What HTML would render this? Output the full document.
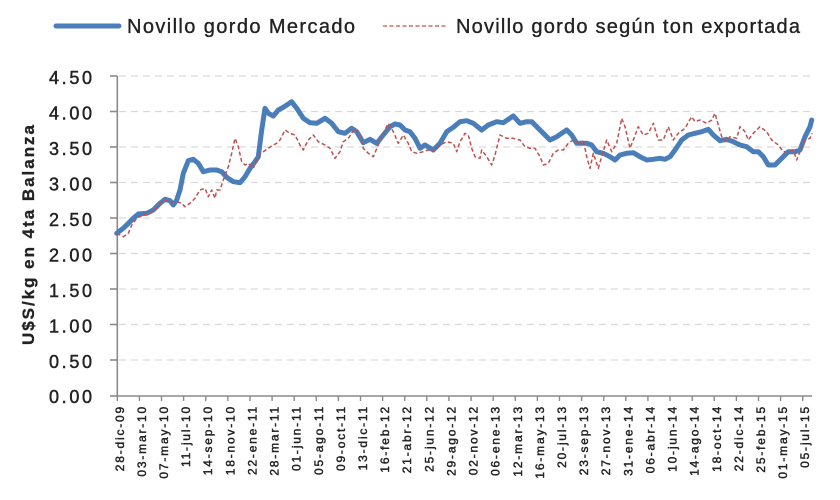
<!DOCTYPE html>
<html>
<head>
<meta charset="utf-8">
<style>
  html,body{margin:0;padding:0;background:#fff;}
  svg{display:block;}
  text{font-family:"Liberation Sans",sans-serif;fill:#222;}
</style>
</head>
<body>
<svg width="840" height="500" viewBox="0 0 840 500" xmlns="http://www.w3.org/2000/svg">
  <rect width="840" height="500" fill="#fff"/>

  <!-- Legend -->
  <line x1="56" y1="26" x2="119" y2="26" stroke="#4a7ebb" stroke-width="5" stroke-linecap="round"/>
  <text x="127" y="33" font-size="20" textLength="228" lengthAdjust="spacing" stroke="#222" stroke-width="0.35">Novillo gordo Mercado</text>
  <line x1="383" y1="26" x2="448" y2="26" stroke="#c0504d" stroke-width="1.3" stroke-dasharray="4,2.5"/>
  <text x="456" y="33" font-size="20" textLength="344" lengthAdjust="spacing" stroke="#222" stroke-width="0.35">Novillo gordo según ton exportada</text>

  <!-- Gridlines -->
  <g stroke="#d9d9d9" stroke-width="1.3" stroke-dasharray="7,5">
    <line x1="119" y1="76" x2="812" y2="76"/>
    <line x1="119" y1="111.5" x2="812" y2="111.5"/>
    <line x1="119" y1="147" x2="812" y2="147"/>
    <line x1="119" y1="182.5" x2="812" y2="182.5"/>
    <line x1="119" y1="218" x2="812" y2="218"/>
    <line x1="119" y1="253.5" x2="812" y2="253.5"/>
    <line x1="119" y1="289" x2="812" y2="289"/>
    <line x1="119" y1="324.5" x2="812" y2="324.5"/>
    <line x1="119" y1="360" x2="812" y2="360"/>
  </g>

  <!-- Axes -->
  <g stroke="#8a8a8a" stroke-width="1.6">
    <line x1="117.3" y1="76" x2="117.3" y2="396.5"/>
    <line x1="117.3" y1="396" x2="812" y2="396"/>
    <line x1="110" y1="76" x2="117.3" y2="76"/>
    <line x1="110" y1="111.5" x2="117.3" y2="111.5"/>
    <line x1="110" y1="147" x2="117.3" y2="147"/>
    <line x1="110" y1="182.5" x2="117.3" y2="182.5"/>
    <line x1="110" y1="218" x2="117.3" y2="218"/>
    <line x1="110" y1="253.5" x2="117.3" y2="253.5"/>
    <line x1="110" y1="289" x2="117.3" y2="289"/>
    <line x1="110" y1="324.5" x2="117.3" y2="324.5"/>
    <line x1="110" y1="360" x2="117.3" y2="360"/>
    <line x1="110" y1="396" x2="117.3" y2="396"/>
  </g>
  <g stroke="#8a8a8a" stroke-width="1.4">
    <line x1="117.3" y1="396" x2="117.3" y2="401"/>
    <line x1="139.4" y1="396" x2="139.4" y2="401"/>
    <line x1="161.5" y1="396" x2="161.5" y2="401"/>
    <line x1="183.6" y1="396" x2="183.6" y2="401"/>
    <line x1="205.7" y1="396" x2="205.7" y2="401"/>
    <line x1="227.9" y1="396" x2="227.9" y2="401"/>
    <line x1="250.0" y1="396" x2="250.0" y2="401"/>
    <line x1="272.1" y1="396" x2="272.1" y2="401"/>
    <line x1="294.2" y1="396" x2="294.2" y2="401"/>
    <line x1="316.3" y1="396" x2="316.3" y2="401"/>
    <line x1="338.4" y1="396" x2="338.4" y2="401"/>
    <line x1="360.5" y1="396" x2="360.5" y2="401"/>
    <line x1="382.6" y1="396" x2="382.6" y2="401"/>
    <line x1="404.7" y1="396" x2="404.7" y2="401"/>
    <line x1="426.8" y1="396" x2="426.8" y2="401"/>
    <line x1="448.9" y1="396" x2="448.9" y2="401"/>
    <line x1="471.1" y1="396" x2="471.1" y2="401"/>
    <line x1="493.2" y1="396" x2="493.2" y2="401"/>
    <line x1="515.3" y1="396" x2="515.3" y2="401"/>
    <line x1="537.4" y1="396" x2="537.4" y2="401"/>
    <line x1="559.5" y1="396" x2="559.5" y2="401"/>
    <line x1="581.6" y1="396" x2="581.6" y2="401"/>
    <line x1="603.7" y1="396" x2="603.7" y2="401"/>
    <line x1="625.8" y1="396" x2="625.8" y2="401"/>
    <line x1="647.9" y1="396" x2="647.9" y2="401"/>
    <line x1="670.0" y1="396" x2="670.0" y2="401"/>
    <line x1="692.2" y1="396" x2="692.2" y2="401"/>
    <line x1="714.3" y1="396" x2="714.3" y2="401"/>
    <line x1="736.4" y1="396" x2="736.4" y2="401"/>
    <line x1="758.5" y1="396" x2="758.5" y2="401"/>
    <line x1="780.6" y1="396" x2="780.6" y2="401"/>
    <line x1="802.7" y1="396" x2="802.7" y2="401"/>
  </g>

  <!-- Y tick labels -->
  <g font-size="18" stroke="#222" stroke-width="0.45">
    <text x="49" y="84" textLength="43" lengthAdjust="spacing">4.50</text>
    <text x="49" y="119.5" textLength="43" lengthAdjust="spacing">4.00</text>
    <text x="49" y="155" textLength="43" lengthAdjust="spacing">3.50</text>
    <text x="49" y="190.5" textLength="43" lengthAdjust="spacing">3.00</text>
    <text x="49" y="226" textLength="43" lengthAdjust="spacing">2.50</text>
    <text x="49" y="261.5" textLength="43" lengthAdjust="spacing">2.00</text>
    <text x="49" y="297" textLength="43" lengthAdjust="spacing">1.50</text>
    <text x="49" y="332.5" textLength="43" lengthAdjust="spacing">1.00</text>
    <text x="49" y="368" textLength="43" lengthAdjust="spacing">0.50</text>
    <text x="49" y="403" textLength="43" lengthAdjust="spacing">0.00</text>
  </g>

  <!-- Y axis title -->
  <text transform="translate(34,235) rotate(-90)" text-anchor="middle" font-size="17" font-weight="bold" textLength="220" lengthAdjust="spacing" stroke="#222" stroke-width="0.3">U$S/kg en 4ta Balanza</text>

  <!-- X tick labels -->
  <g font-size="12" letter-spacing="1.8" text-anchor="end" stroke="#222" stroke-width="0.45">
    <text transform="translate(123.8,405) rotate(-90)">28-dic-09</text>
    <text transform="translate(145.9,405) rotate(-90)">03-mar-10</text>
    <text transform="translate(168.0,405) rotate(-90)">07-may-10</text>
    <text transform="translate(190.1,405) rotate(-90)">11-jul-10</text>
    <text transform="translate(212.2,405) rotate(-90)">14-sep-10</text>
    <text transform="translate(234.4,405) rotate(-90)">18-nov-10</text>
    <text transform="translate(256.5,405) rotate(-90)">22-ene-11</text>
    <text transform="translate(278.6,405) rotate(-90)">28-mar-11</text>
    <text transform="translate(300.7,405) rotate(-90)">01-jun-11</text>
    <text transform="translate(322.8,405) rotate(-90)">05-ago-11</text>
    <text transform="translate(344.9,405) rotate(-90)">09-oct-11</text>
    <text transform="translate(367.0,405) rotate(-90)">13-dic-11</text>
    <text transform="translate(389.1,405) rotate(-90)">16-feb-12</text>
    <text transform="translate(411.2,405) rotate(-90)">21-abr-12</text>
    <text transform="translate(433.3,405) rotate(-90)">25-jun-12</text>
    <text transform="translate(455.4,405) rotate(-90)">29-ago-12</text>
    <text transform="translate(477.6,405) rotate(-90)">02-nov-12</text>
    <text transform="translate(499.7,405) rotate(-90)">06-ene-13</text>
    <text transform="translate(521.8,405) rotate(-90)">12-mar-13</text>
    <text transform="translate(543.9,405) rotate(-90)">16-may-13</text>
    <text transform="translate(566.0,405) rotate(-90)">20-jul-13</text>
    <text transform="translate(588.1,405) rotate(-90)">23-sep-13</text>
    <text transform="translate(610.2,405) rotate(-90)">27-nov-13</text>
    <text transform="translate(632.3,405) rotate(-90)">31-ene-14</text>
    <text transform="translate(654.4,405) rotate(-90)">06-abr-14</text>
    <text transform="translate(676.5,405) rotate(-90)">10-jun-14</text>
    <text transform="translate(698.7,405) rotate(-90)">14-ago-14</text>
    <text transform="translate(720.8,405) rotate(-90)">18-oct-14</text>
    <text transform="translate(742.9,405) rotate(-90)">22-dic-14</text>
    <text transform="translate(765.0,405) rotate(-90)">25-feb-15</text>
    <text transform="translate(787.1,405) rotate(-90)">01-may-15</text>
    <text transform="translate(809.2,405) rotate(-90)">05-jul-15</text>
  </g>

  <!-- Series: Mercado (blue) -->
  <polyline fill="none" stroke="#4a7ebb" stroke-width="5" stroke-linejoin="round" stroke-linecap="round"
    points="116.7,233.3 123.3,228.3 128.3,223.3 133.3,218.3 138.3,214 146.7,213.3 153.3,210 160,203.3 165,199.3 170,200.7 173.3,205 176.7,200 180,190 183.3,173.3 188.3,160.7 193.3,159.3 198.3,163.3 203.3,171.7 210,170 216.7,170 221.7,171.7 226.7,177.3 233.3,181.7 240,182.7 245,176.7 250,168.3 255,161.7 258.3,156.7 261.7,130 265,108.3 268.3,113.3 273.3,116 278.3,110 283.3,107.3 291.7,101.7 296.7,108.3 303.3,118.3 310,122.7 316.7,123.3 325,118.3 331.7,123.3 338.3,131.7 345,133.3 351.7,128.3 356.7,131.7 363.3,142.7 370,139.3 376.7,143.3 383.3,135 390,126.7 395,124 400,125 405,130 410,131.7 415,138.3 420,148.3 425,145 433.3,150 440,143.3 446.7,131.7 453.3,127.3 460,121.7 466.7,120.7 473.3,123.3 481.7,130 488.3,125 496.7,121.7 503.3,122.7 508.3,119.3 513.3,116 520,123.3 526.7,121.7 531.7,121.7 538.3,128.3 543.3,133.3 550,140 556.7,136.7 561.7,133.3 566.7,130 571.7,135 576.7,143.3 580,143.3 586.7,143.3 591.7,145 596.7,151.7 603.3,153.3 610,156.7 615,160 620,155 626.7,153.3 633.3,152.7 640,156.7 646.7,160 653.3,159.3 660,158.3 665,159.3 670,156.7 675,150 681.7,140 688.3,135 695,133.3 701.7,131.7 708.3,129.3 713.3,135 720,140.7 726.7,139.3 733.3,141.7 740,145 746.7,146.7 753.3,151.7 758.3,151.7 763.3,156.7 768.3,165 775,165 781.7,158.3 788.3,151.7 795,151.7 800,150 805,136.7 810,126.7 811.7,120"/>

  <!-- Series: exportada (red dashed) -->
  <polyline fill="none" stroke="#c0504d" stroke-width="1.5" stroke-dasharray="4,2.5" stroke-linejoin="round"
    points="116.7,233.3 123.3,236.7 128.3,233.3 131.7,225 136.7,218.3 143.3,215 150,213.3 156.7,208.3 163.3,200 170,201.7 176.7,201.7 181.7,203.3 185,206.7 190,203.3 195,198.3 200,190 205,188.3 208.3,196.7 211.7,190 215,198.3 216.7,190 220,190 223.3,180 228.3,166.7 231.7,153.3 235,138.3 238.3,146.7 241.7,161.7 245,165 248.3,163.3 253.3,168.3 256.7,160 260,153.3 263.3,151.7 268.3,148.3 273.3,145 276.7,143.3 280,140 285,130 290,133.3 295,135 300,145 303.3,150 308.3,140 313.3,135 318.3,141.7 325,145 330,148.3 335,158.3 340,151.7 343.3,141.7 348.3,138.3 355,128.3 360,135 363.3,148.3 368.3,153.3 373.3,156.7 378.3,145 383.3,133.3 388.3,123.3 393.3,131.7 398.3,143.3 403.3,135 408.3,143.3 411.7,151.7 416.7,153.3 423.3,151.7 428.3,150 433.3,151.7 440,145 446.7,141.7 453.3,143.3 456.7,151.7 460,141.7 465,133.3 468.3,135 471.7,148.3 475,156.7 480,158.3 481.7,150 486.7,156.7 491.7,165 495,155 500,135 506.7,138.3 513.3,138.3 520,140 525,146.7 530,148.3 535,148.3 540,156.7 543.3,165 548.3,163.3 553.3,153.3 558.3,150 563.3,150 568.3,143.3 573.3,140 578.3,143.3 580,145 583.3,140 586.7,156.7 590,168.3 593.3,153.3 598.3,168.3 601.7,156.7 606.7,140 611.7,151.7 616.7,143.3 621.7,118.3 625,126.7 630,148.3 633.3,140 638.3,126.7 643.3,135 648.3,133.3 653.3,123.3 658.3,140 663.3,140 668.3,126.7 673.3,140 678.3,133.3 685,128.3 691.7,116.7 695,121.7 700,120 706.7,123.3 711.7,120 715,113.3 718.3,125 721.7,136.7 726.7,141.7 730,136.7 736.7,138.3 740,126.7 745,131.7 748.3,140 753.3,133.3 760,126.7 766.7,131.7 771.7,140 778.3,145 783.3,151.7 788.3,151.7 793.3,150 796.7,160 800,151.7 805,140 810,138.3 812,133.3"/>
</svg>
</body>
</html>
